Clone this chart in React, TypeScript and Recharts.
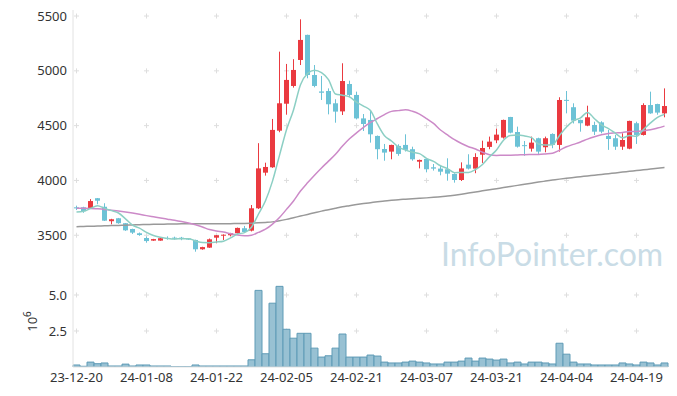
import { ComposedChart, Bar, Line, XAxis, YAxis, ReferenceDot } from 'recharts'

const dates = [
  '23-12-20', '23-12-21', '23-12-22', '23-12-26', '23-12-27', '23-12-28', '24-01-02', '24-01-03', '24-01-04', '24-01-05',
  '24-01-08', '24-01-09', '24-01-10', '24-01-11', '24-01-12', '24-01-15', '24-01-16', '24-01-17', '24-01-18', '24-01-19',
  '24-01-22', '24-01-23', '24-01-24', '24-01-25', '24-01-26', '24-01-29', '24-01-30', '24-01-31', '24-02-01', '24-02-02',
  '24-02-05', '24-02-06', '24-02-07', '24-02-08', '24-02-13', '24-02-14', '24-02-15', '24-02-16', '24-02-19', '24-02-20',
  '24-02-21', '24-02-22', '24-02-23', '24-02-26', '24-02-27', '24-02-28', '24-02-29', '24-03-04', '24-03-05', '24-03-06',
  '24-03-07', '24-03-08', '24-03-11', '24-03-12', '24-03-13', '24-03-14', '24-03-15', '24-03-18', '24-03-19', '24-03-20',
  '24-03-21', '24-03-22', '24-03-25', '24-03-26', '24-03-27', '24-03-28', '24-03-29', '24-04-01', '24-04-02', '24-04-03',
  '24-04-04', '24-04-05', '24-04-08', '24-04-09', '24-04-11', '24-04-12', '24-04-15', '24-04-16', '24-04-17', '24-04-18',
  '24-04-19', '24-04-22', '24-04-23', '24-04-24', '24-04-25',
]

const open = [
  3755, 3755, 3745, 3838, 3760, 3628, 3655, 3610, 3557, 3518,
  3475, 3451, 3451, 3475, 3478, 3478, 3470, 3457, 3372, 3387,
  3478, 3496, 3500, 3518, 3564, 3542, 3746, 4071, 4120, 4454,
  4700, 4862, 5099, 5328, 4962, 4812, 4816, 4704, 4630, 4880,
  4780, 4566, 4552, 4406, 4287, 4263, 4315, 4324, 4285, 4171,
  4196, 4120, 4108, 4102, 4059, 4004, 4144, 4108, 4235, 4306,
  4366, 4391, 4579, 4442, 4322, 4290, 4385, 4303, 4424, 4324,
  4735, 4668, 4552, 4500, 4506, 4530, 4406, 4385, 4308, 4290,
  4522, 4415, 4688, 4697, 4612,
]
const high = [
  3770, 3760, 3830, 3840, 3792, 3650, 3658, 3612, 3560, 3525,
  3488, 3467, 3475, 3490, 3487, 3485, 3472, 3460, 3395, 3470,
  3502, 3508, 3522, 3570, 3585, 3776, 4340, 4162, 4561, 5175,
  5063, 5106, 5470, 5330, 5053, 4953, 4840, 4741, 5069, 4910,
  4810, 4606, 4643, 4410, 4333, 4326, 4330, 4421, 4308, 4190,
  4200, 4150, 4139, 4202, 4065, 4165, 4239, 4248, 4363, 4400,
  4473, 4555, 4580, 4491, 4360, 4400, 4390, 4400, 4430, 4759,
  4816, 4704, 4555, 4682, 4536, 4540, 4461, 4415, 4430, 4545,
  4536, 4704, 4810, 4700, 4840,
]
const low = [
  3730, 3705, 3740, 3783, 3630, 3600, 3605, 3540, 3512, 3495,
  3432, 3449, 3450, 3460, 3460, 3455, 3458, 3350, 3368, 3385,
  3427, 3457, 3490, 3515, 3525, 3535, 3740, 4044, 4115, 4440,
  4600, 4847, 5053, 4932, 4850, 4734, 4603, 4527, 4597, 4760,
  4557, 4451, 4345, 4193, 4180, 4193, 4225, 4264, 4180, 4110,
  4074, 4090, 4047, 3998, 3980, 3995, 4100, 4066, 4160, 4285,
  4340, 4382, 4430, 4300, 4225, 4263, 4242, 4257, 4294, 4263,
  4612, 4520, 4445, 4495, 4415, 4430, 4279, 4279, 4279, 4285,
  4333, 4410, 4608, 4600, 4576,
]
const close = [
  3745, 3720, 3812, 3815, 3633, 3646, 3610, 3545, 3524, 3502,
  3447, 3465, 3473, 3468, 3470, 3467, 3465, 3372, 3392, 3463,
  3500, 3505, 3518, 3567, 3530, 3746, 4110, 4123, 4461, 4704,
  4917, 5008, 5282, 4962, 4862, 4800, 4695, 4628, 4907, 4780,
  4566, 4515, 4421, 4285, 4254, 4324, 4242, 4279, 4193, 4187,
  4102, 4108, 4080, 4062, 4004, 4110, 4108, 4214, 4296, 4354,
  4418, 4552, 4436, 4308, 4315, 4345, 4263, 4385, 4324, 4734,
  4728, 4546, 4522, 4576, 4445, 4445, 4378, 4308, 4369, 4543,
  4415, 4688, 4612, 4619, 4679,
]

// moving averages
const ma5 = [
  3712, 3718, 3745, 3770, 3745, 3725, 3703, 3650, 3592, 3565,
  3526, 3497, 3482, 3471, 3465, 3469, 3469, 3448, 3433, 3432,
  3438, 3446, 3476, 3511, 3524, 3573, 3694, 3815, 3994, 4229,
  4463, 4643, 4874, 4975, 5006, 4983, 4920, 4789, 4778, 4762,
  4715, 4679, 4638, 4513, 4408, 4360, 4305, 4277, 4258, 4245,
  4201, 4174, 4134, 4108, 4071, 4073, 4073, 4100, 4146, 4216,
  4278, 4367, 4411, 4414, 4406, 4391, 4333, 4323, 4326, 4410,
  4487, 4543, 4571, 4621, 4563, 4507, 4473, 4430, 4389, 4409,
  4403, 4465, 4525, 4575, 4603,
]
const ma20 = [
  3746, 3746, 3745, 3741, 3736, 3729, 3721, 3712, 3702, 3691,
  3679, 3668, 3657, 3647, 3637, 3625, 3611, 3595, 3575, 3552,
  3539, 3529, 3514, 3502, 3496, 3501, 3526, 3555, 3602, 3662,
  3736, 3813, 3903, 3978, 4048, 4114, 4176, 4239, 4314, 4380,
  4434, 4484, 4529, 4565, 4601, 4630, 4637, 4645, 4631, 4605,
  4565, 4520, 4460, 4415, 4372, 4337, 4308, 4287, 4257, 4235,
  4228, 4230, 4230, 4232, 4235, 4236, 4237, 4242, 4249, 4276,
  4307, 4329, 4351, 4377, 4399, 4416, 4429, 4434, 4438, 4447,
  4447, 4454, 4462, 4478, 4496,
]
const maLong = [
  3578, 3580, 3582, 3584, 3586, 3588, 3590, 3592, 3594, 3596,
  3598, 3600, 3601, 3602, 3603, 3604, 3604, 3604, 3604, 3605,
  3605, 3605, 3606, 3607, 3608, 3610, 3613, 3617, 3622, 3632,
  3645, 3660, 3675, 3690, 3705, 3720, 3733, 3747, 3760, 3770,
  3780, 3789, 3797, 3805, 3812, 3819, 3825, 3829, 3833, 3837,
  3841, 3846, 3852, 3858, 3866, 3875, 3885, 3895, 3905, 3915,
  3925, 3935, 3945, 3955, 3965, 3975, 3985, 3994, 4003, 4012,
  4020, 4027, 4034, 4041, 4048, 4055, 4062, 4069, 4076, 4083,
  4090, 4097, 4104, 4111, 4117,
]

// volume, in millions
const volume = [
  0.14, 0.05, 0.34, 0.23, 0.28, 0.07, 0.07, 0.2, 0.07, 0.14,
  0.14, 0.07, 0.07, 0.07, 0.02, 0.02, 0.02, 0.14, 0.07, 0.07,
  0.07, 0.07, 0.07, 0.07, 0.07, 0.5, 5.32, 0.92, 4.43, 5.6,
  2.62, 2.0, 2.34, 2.34, 1.31, 0.69, 0.78, 1.31, 2.29, 0.69,
  0.69, 0.69, 0.83, 0.76, 0.34, 0.28, 0.28, 0.34, 0.41, 0.34,
  0.28, 0.21, 0.21, 0.34, 0.34, 0.41, 0.62, 0.41, 0.62, 0.55,
  0.48, 0.55, 0.28, 0.34, 0.21, 0.34, 0.34, 0.28, 0.21, 1.65,
  0.89, 0.34, 0.21, 0.21, 0.14, 0.14, 0.14, 0.14, 0.28, 0.21,
  0.14, 0.34, 0.28, 0.14, 0.28,
]

const priceTicks = [3500, 4000, 4500, 5000, 5500]
const volumeTicks = [2.5, 5]
const gridDates = dates.filter((_, i) => i % 10 === 0)

const UP = '#ea3a40'
const DOWN = '#6cc2d6'
const BORDER = '#e2e2e2'
const font = "'Noto Sans', sans-serif"

const rows = dates.map((date, i) => ({
  date,
  open: open[i],
  high: high[i],
  low: low[i],
  close: close[i],
  ma5: ma5[i],
  ma20: ma20[i],
  maLong: maLong[i],
  volume: volume[i],
}))

function Candle(props: any) {
  const { x, y, width, height, payload } = props
  const top = Math.min(y, y + height)
  const h = Math.abs(height)
  const span = payload.high - payload.low
  const k = span > 0 ? h / span : 0
  const color = payload.close >= payload.open ? UP : DOWN
  const bodyTop = top + (payload.high - Math.max(payload.open, payload.close)) * k
  const bodyH = Math.max(1, Math.abs(payload.open - payload.close) * k)
  const cx = Math.floor(x + width / 2)
  return (
    <g>
      <rect x={cx} y={top} width={1} height={h} fill={color} />
      <rect x={x} y={bodyTop} width={width} height={bodyH} fill={color} />
    </g>
  )
}

function Plus(props: any) {
  const { cx, cy } = props
  return <path d={`M${cx - 2.5},${cy}h5M${cx},${cy - 2.5}v5`} stroke="#dedede" strokeWidth={1} fill="none" />
}

function VolumeUnit(props: any) {
  const vb = props.viewBox || { x: 0, y: 0, width: 73, height: 89 }
  const cx = vb.x + 37
  const cy = vb.y + vb.height / 2 - 1
  return (
    <text transform={`translate(${cx},${cy}) rotate(-90)`} textAnchor="middle" fontSize={13} fill="#333">
      10<tspan dy={-6} fontSize={10}>6</tspan>
    </text>
  )
}

const tickStyle = { fontSize: 13, fill: '#333' }

export default function App() {
  return (
    <div style={{ position: 'absolute', left: 0, top: 0, width: 677, height: 396, fontFamily: font, background: '#fff' }}>
      <ComposedChart width={677} height={278} data={rows} margin={{ top: 10, right: 9, bottom: 0, left: 0 }}>
        <XAxis dataKey="date" orientation="top" height={0} tick={false} tickLine={false} axisLine={{ stroke: BORDER }} />
        <YAxis
          domain={[3110, 5555]}
          ticks={priceTicks}
          allowDataOverflow
          width={73}
          tickLine={false}
          tickSize={4}
          tickMargin={2}
          axisLine={{ stroke: BORDER }}
          tick={tickStyle}
        />
        <YAxis yAxisId="r" orientation="right" width={0} domain={[0, 1]} tick={false} tickLine={false} axisLine={{ stroke: BORDER }} />
        {gridDates.map((d) =>
          priceTicks.map((v) => <ReferenceDot key={d + v} x={d} y={v} r={0} shape={Plus} {...({ zIndex: 100 } as any)} />)
        )}
        <Bar dataKey={(d: any) => [d.low, d.high]} barSize={5} shape={Candle} isAnimationActive={false} />
        <Line type="monotone" dataKey="maLong" stroke="#999999" strokeWidth={1.5} dot={false} isAnimationActive={false} />
        <Line type="monotone" dataKey="ma20" stroke="#cc8ac8" strokeWidth={1.5} dot={false} isAnimationActive={false} />
        <Line type="monotone" dataKey="ma5" stroke="#8ccfc4" strokeWidth={1.5} dot={false} isAnimationActive={false} />
      </ComposedChart>
      <ComposedChart width={677} height={118} data={rows} margin={{ top: 0, right: 9, bottom: 0, left: 0 }} barCategoryGap={0}>
        <XAxis
          dataKey="date"
          height={29}
          interval={9}
          tickLine={false}
          tickSize={4}
          tickMargin={2}
          axisLine={{ stroke: BORDER }}
          tick={tickStyle}
        />
        <XAxis xAxisId="t" dataKey="date" orientation="top" height={0} tick={false} tickLine={false} axisLine={{ stroke: BORDER }} />
        <YAxis
          domain={[0, 6.18]}
          ticks={volumeTicks}
          allowDataOverflow
          width={73}
          tickLine={false}
          tickSize={4}
          tickMargin={2}
          axisLine={{ stroke: BORDER }}
          tick={tickStyle}
          tickFormatter={(v: number) => v.toFixed(1)}
          label={<VolumeUnit />}
        />
        <YAxis yAxisId="r" orientation="right" width={0} domain={[0, 1]} tick={false} tickLine={false} axisLine={{ stroke: BORDER }} />
        {gridDates.map((d) =>
          volumeTicks.map((v) => <ReferenceDot key={d + v} x={d} y={v} r={0} shape={Plus} {...({ zIndex: 100 } as any)} />)
        )}
        <Bar dataKey="volume" fill="#98c1d3" stroke="#5f9bb6" strokeWidth={1} isAnimationActive={false} />
      </ComposedChart>
      <div
        style={{
          position: 'absolute',
          left: 441,
          top: 238,
          fontFamily: 'Lato, sans-serif',
          fontSize: 32,
          lineHeight: '32px',
          color: '#c9dce6',
          pointerEvents: 'none',
        }}
      >
        InfoPointer.com
      </div>
    </div>
  )
}
